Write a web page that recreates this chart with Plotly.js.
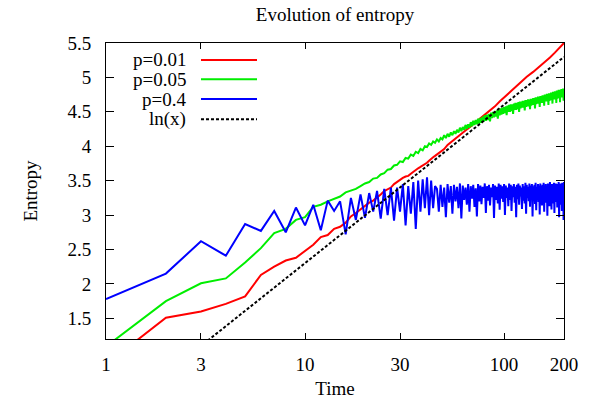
<!DOCTYPE html>
<html>
<head>
<meta charset="utf-8">
<script src="https://cdn.plot.ly/plotly-3.0.1.min.js"></script>
<style>html,body{margin:0;padding:0;background:#fff;}#chart{width:597px;height:403px;}</style>
</head>
<body>
<div id="chart"></div>
<script>
// ---- data ----
const seriesNames = ["p=0.01", "p=0.05", "p=0.4", "ln(x)"];
const xTickVals = [1, 3, 10, 30, 100, 200];
const xTickText = ["1", "3", "10", "30", "100", "200"];
const yTickVals = [1.5, 2, 2.5, 3, 3.5, 4, 4.5, 5, 5.5];

const timeAll = Array.from({length: 200}, (_, i) => i + 1);

const timeRed = [1,2,3,4,5,6,7,8,9,10,11,12,13,14,15,16,17,18,19,20,21,22,23,24,25,26,27,28,29,30,
  31,32,33,34,35,36,37,38,39,40,41,42,43,44,45,46,47,48,49,50,52,54,56,58,60,62,64,66,68,70,73,76,80,85,90,95,100,
  110,120,130,140,150,160,170,180,190,200];
const entropyP001 = [0.83,1.51,1.60,1.71,1.82,2.13,2.25,2.34,2.38,2.48,2.57,2.68,2.71,2.80,2.83,2.89,2.98,3.03,3.08,3.14,
  3.18,3.21,3.25,3.30,3.35,3.38,3.40,3.45,3.48,3.52,3.54,3.56,3.57,3.60,3.63,3.66,3.68,3.70,3.72,3.74,
  3.76,3.79,3.82,3.84,3.86,3.88,3.91,3.92,3.94,3.96,4.02,4.06,4.10,4.14,4.17,4.20,4.23,4.26,4.29,4.32,4.36,4.41,4.45,4.52,4.58,4.65,4.71,
  4.82,4.92,5.01,5.08,5.15,5.22,5.29,5.36,5.43,5.50];

const entropyP005 = [1.09,1.75,2.01,2.08,2.31,2.52,2.74,2.80,2.93,2.97,
  3.12,3.15,3.20,3.24,3.27,3.33,3.35,3.38,3.42,3.46,
  3.48,3.53,3.54,3.59,3.61,3.66,3.67,3.72,3.73,3.78,
  3.77,3.83,3.82,3.88,3.86,3.92,3.90,3.96,3.94,4.00,
  3.99,4.04,4.02,4.07,4.05,4.10,4.07,4.12,4.10,4.16,
  4.12,4.18,4.14,4.20,4.16,4.22,4.18,4.24,4.20,4.27,
  4.22,4.28,4.24,4.31,4.25,4.32,4.27,4.35,4.29,4.37,
  4.31,4.38,4.32,4.40,4.33,4.41,4.34,4.43,4.36,4.45,
  4.37,4.46,4.38,4.47,4.36,4.49,4.41,4.50,4.42,4.51,
  4.43,4.52,4.40,4.53,4.45,4.55,4.46,4.56,4.47,4.57,
  4.48,4.58,4.45,4.59,4.50,4.60,4.50,4.61,4.51,4.61,
  4.47,4.62,4.53,4.63,4.53,4.63,4.54,4.64,4.50,4.65,
  4.55,4.65,4.56,4.66,4.56,4.66,4.52,4.67,4.57,4.67,
  4.58,4.68,4.58,4.68,4.54,4.69,4.59,4.69,4.60,4.70,
  4.60,4.70,4.55,4.71,4.61,4.71,4.62,4.72,4.62,4.72,
  4.57,4.73,4.63,4.73,4.63,4.74,4.64,4.74,4.59,4.75,
  4.65,4.75,4.65,4.76,4.66,4.76,4.60,4.77,4.66,4.77,
  4.67,4.78,4.67,4.78,4.62,4.79,4.68,4.79,4.68,4.80,
  4.69,4.80,4.63,4.81,4.69,4.81,4.70,4.82,4.70,4.82,
  4.64,4.82,4.71,4.83,4.71,4.83,4.72,4.84,4.66,4.84];

const entropyP04 = [1.78,2.15,2.62,2.41,2.87,2.77,3.06,2.75,3.11,2.85,
  3.15,2.78,3.21,3.06,3.20,2.72,3.25,2.93,3.30,2.96,
  3.32,3.05,3.35,2.95,3.38,3.00,3.40,2.92,3.40,3.05,
  3.45,2.85,3.42,3.02,3.48,2.80,3.50,3.05,3.52,3.10,
  3.55,3.00,3.50,3.10,3.42,
  3.38,3.05,3.44,3.12,3.40,2.97,3.45,3.18,3.42,3.02,
  3.44,3.20,3.41,3.10,3.46,2.95,3.43,3.22,3.40,3.15,
  3.45,3.05,3.42,3.24,3.44,3.12,3.39,2.98,3.45,3.20,
  3.43,3.16,3.41,3.25,3.46,3.03,3.42,3.21,3.44,3.14,
  3.40,3.26,3.45,2.96,3.43,3.22,3.41,3.17,3.46,3.08,
  3.44,3.24,3.42,3.19,3.45,3.00,3.43,3.25,3.40,3.13,
  3.46,3.22,3.44,3.06,3.42,3.26,3.45,3.18,3.41,2.97,
  3.44,3.23,3.46,3.15,3.43,3.27,3.40,3.09,3.45,3.21,
  3.42,3.17,3.47,3.02,3.44,3.25,3.41,3.20,3.46,3.12,
  3.43,3.26,3.45,2.98,3.42,3.22,3.44,3.16,3.47,3.07,
  3.41,3.24,3.45,3.19,3.43,3.01,3.46,3.27,3.42,3.14,
  3.44,3.21,3.47,3.05,3.43,3.25,3.45,3.18,3.41,2.99,
  3.46,3.23,3.44,3.13,3.48,3.26,3.42,3.08,3.45,3.20,
  3.43,3.17,3.47,3.03,3.44,3.24,3.46,3.19,3.42,3.11,
  3.45,3.27,3.48,2.97,3.43,3.22,3.46,3.15,3.44,3.06,
  3.47,3.25,3.45,2.93,3.48];

const timeLn = [1, 3, 10, 30, 100, 200];
const lnValues = [0, 1.099, 2.303, 3.401, 4.605, 5.298];

// ---- styles ----
const colors = ["#ff0000", "#00ee00", "#0000ff", "#000000"];
const FONT = "Liberation Serif, Times New Roman, serif";

const traces = [
  {x: timeRed, y: entropyP001, name: seriesNames[0], mode: "lines", line: {color: colors[0], width: 2}},
  {x: timeAll, y: entropyP005, name: seriesNames[1], mode: "lines", line: {color: colors[1], width: 2}},
  {x: timeAll, y: entropyP04, name: seriesNames[2], mode: "lines", line: {color: colors[2], width: 2}},
  {x: timeLn, y: lnValues, name: seriesNames[3], mode: "lines", line: {color: colors[3], width: 2, dash: "3px,2px"}}
];

// custom gnuplot-style legend (text left, sample right)
const legY = [0.9426, 0.8774, 0.8108, 0.7422];
const annotations = seriesNames.map((n, i) => ({
  text: n, xref: "paper", yref: "paper", x: 0.179, y: legY[i],
  xanchor: "right", yanchor: "middle", showarrow: false,
  font: {family: FONT, size: 19, color: "#000"}
}));
const shapes = seriesNames.map((n, i) => ({
  type: "line", xref: "paper", yref: "paper", x0: 0.2074, x1: 0.3297, y0: legY[i], y1: legY[i],
  line: {color: colors[i], width: 2, dash: i === 3 ? "3px,2px" : "solid"}
}));

const layout = {
  width: 597, height: 403,
  margin: {l: 106, r: 33, t: 43, b: 64},
  paper_bgcolor: "#fff", plot_bgcolor: "#fff",
  showlegend: false,
  font: {family: FONT, size: 19, color: "#000"},
  title: {text: "Evolution of entropy", font: {family: FONT, size: 19, color: "#000"},
    xref: "paper", x: 0.5, xanchor: "center", yref: "container", y: 0.965, yanchor: "middle"},
  xaxis: {
    type: "log", range: [0, Math.log10(200)],
    tickvals: xTickVals, ticktext: xTickText,
    ticks: "inside", ticklen: 6, tickcolor: "#000", tickwidth: 1,
    showline: true, linecolor: "#000", linewidth: 1, mirror: "ticks",
    showgrid: false, zeroline: false,
    ticklabelstandoff: 8,
    tickfont: {family: FONT, size: 19, color: "#000"},
    title: {text: "Time", font: {family: FONT, size: 19, color: "#000"}, standoff: 7}
  },
  yaxis: {
    range: [1.2, 5.5], tickvals: yTickVals,
    ticks: "inside", ticklen: 8, tickcolor: "#000", tickwidth: 1,
    showline: true, linecolor: "#000", linewidth: 1, mirror: "ticks",
    showgrid: false, zeroline: false,
    ticklabelstandoff: 10,
    tickfont: {family: FONT, size: 19, color: "#000"},
    title: {text: "Entropy", font: {family: FONT, size: 19, color: "#000"}, standoff: 24}
  },
  annotations: annotations,
  shapes: shapes
};

Plotly.newPlot("chart", traces, layout, {displayModeBar: false, staticPlot: true});
</script>
</body>
</html>
